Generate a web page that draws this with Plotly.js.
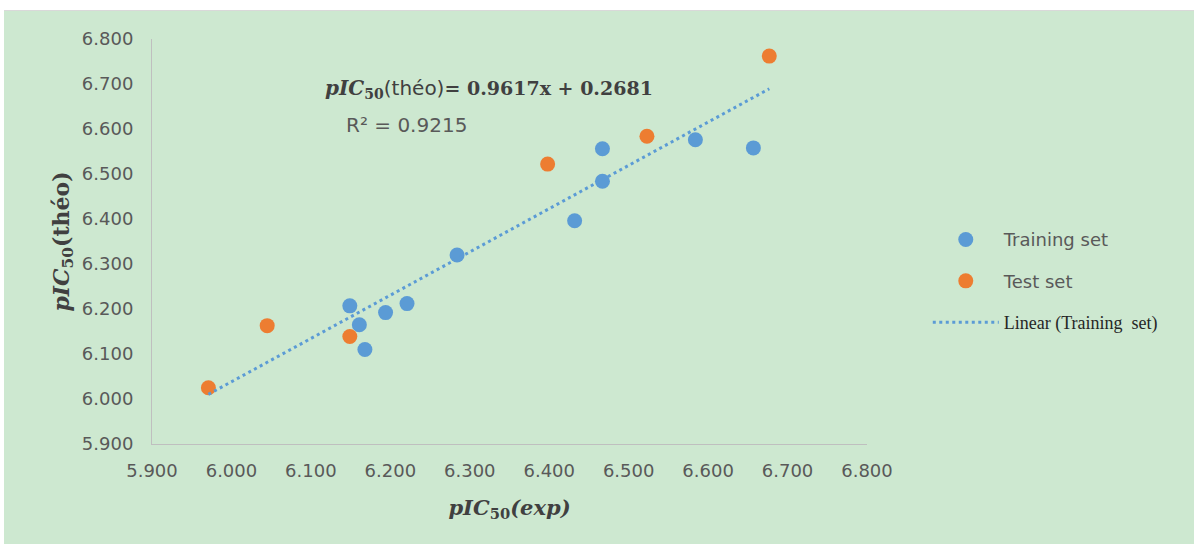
<!DOCTYPE html>
<html>
<head>
<meta charset="utf-8">
<script src="https://cdn.plot.ly/plotly-3.0.1.min.js"></script>
<style>
  html, body { margin: 0; padding: 0; background: #ffffff; }
  #chart { position: absolute; left: 4px; top: 10px; width: 1190px; height: 534px; border-top: 1px solid #d9d9d9; box-sizing: border-box; }
</style>
</head>
<body>
<div id="chart"></div>
<script>
// Training set: pIC50(exp) vs pIC50(théo)
const trainExp  = [6.149, 6.161, 6.168, 6.194, 6.221, 6.284, 6.432, 6.467, 6.467, 6.584, 6.657];
const trainTheo = [6.207, 6.165, 6.110, 6.192, 6.212, 6.320, 6.396, 6.556, 6.484, 6.576, 6.558];
// Test set
const testExp  = [5.971, 6.045, 6.149, 6.398, 6.523, 6.677];
const testTheo = [6.025, 6.163, 6.139, 6.522, 6.584, 6.762];
// Linear trendline (Training set)
const slope = 0.9617;
const intercept = 0.2681;
const r2 = 0.9215;

const allX = trainExp.concat(testExp);
const xMin = Math.min(...allX), xMax = Math.max(...allX);
const lineX = [xMin, xMax];
const lineY = lineX.map(v => slope * v + intercept);

const SANS = "DejaVu Sans";
const SERIF = "DejaVu Serif";

const traces = [
  { x: trainExp, y: trainTheo, type: 'scatter', mode: 'markers', name: 'Training set',
    legendgroup: 'a', marker: { color: '#5B9BD5', size: 15 } },
  { x: testExp, y: testTheo, type: 'scatter', mode: 'markers', name: 'Test set',
    legendgroup: 'b', marker: { color: '#ED7D31', size: 15 } },
  { x: lineX, y: lineY, type: 'scatter', mode: 'lines',
    name: '<span style="font-family:\'Liberation Serif\';font-size:18px;fill:#262626">Linear (Training&nbsp; set)</span>',
    legendgroup: 'c', line: { color: '#5B9BD5', width: 3, dash: '3px,3.5px' } }
];

const layout = {
  width: 1190, height: 534,
  paper_bgcolor: '#CDE8D0', plot_bgcolor: '#CDE8D0',
  margin: { l: 148, r: 327, t: 28, b: 101 },
  font: { family: SANS, color: '#595959', size: 18 },
  xaxis: {
    range: [5.9, 6.8], dtick: 0.1, tick0: 5.9, tickformat: '.3f',
    showgrid: false, zeroline: false, showline: true, linecolor: '#BFBFBF', linewidth: 1,
    ticks: '', ticklabelstandoff: 10,
    tickfont: { family: SANS, size: 18, color: '#595959' },
    title: { text: '<b><i>pIC</i><sub>50</sub><i>(exp)</i></b>', standoff: 20,
             font: { family: SERIF, size: 21, color: '#404040' } }
  },
  yaxis: {
    range: [5.9, 6.8], dtick: 0.1, tick0: 5.9, tickformat: '.3f',
    showgrid: false, zeroline: false, showline: true, linecolor: '#BFBFBF', linewidth: 1,
    ticks: '', ticklabelstandoff: 14,
    tickfont: { family: SANS, size: 18, color: '#595959' },
    title: { text: '<b><i>pIC</i><sub>50</sub>(théo)</b>', standoff: 6,
             font: { family: SERIF, size: 22, color: '#404040' } }
  },
  showlegend: true,
  legend: {
    x: 1.085, xanchor: 'left', y: 0.55, yanchor: 'top',
    bgcolor: 'rgba(0,0,0,0)', borderwidth: 0,
    font: { family: SANS, size: 18, color: '#595959' },
    traceorder: 'grouped', tracegroupgap: 15, itemwidth: 66
  },
  annotations: [
    { xref: 'x', yref: 'y', x: 6.115, y: 6.689, xanchor: 'left', yanchor: 'middle', showarrow: false,
      text: '<span style="font-family:\'DejaVu Serif\';font-weight:bold"><i>pIC</i><sub>50</sub></span>(théo)<span style="font-family:\'DejaVu Serif\';font-weight:bold;font-size:19px">= ' +
            slope.toFixed(4) + 'x + ' + intercept.toFixed(4) + '</span>',
      font: { family: SANS, size: 20, color: '#404040' } },
    { xref: 'x', yref: 'y', x: 6.142, y: 6.61, xanchor: 'left', yanchor: 'middle', showarrow: false,
      text: 'R² = ' + r2.toFixed(4),
      font: { family: SANS, size: 20, color: '#595959' } }
  ]
};

Plotly.newPlot('chart', traces, layout, { staticPlot: true, displayModeBar: false });
</script>
</body>
</html>
